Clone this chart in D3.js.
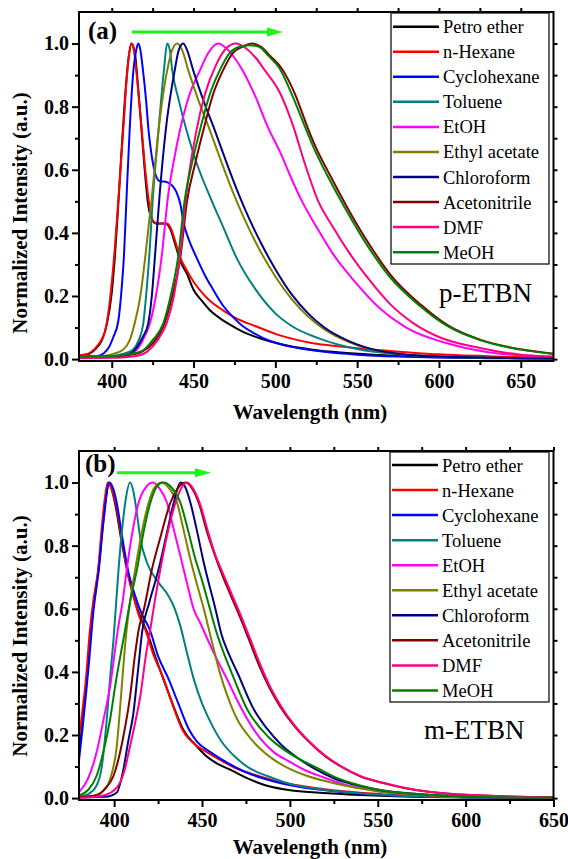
<!DOCTYPE html>
<html><head><meta charset="utf-8">
<script src="https://cdn.jsdelivr.net/npm/d3@7"></script>
<style>body{margin:0;background:#fff}text{font-family:"Liberation Serif","Times New Roman",serif}</style>
</head><body>
<svg id="c" width="568" height="859"></svg>
<script>
// ---------- data ----------
const solvents = ["Petro ether","n-Hexane","Cyclohexane","Toluene","EtOH","Ethyl acetate","Chloroform","Acetonitrile","DMF","MeOH"];
const colors = ["#000000","#ff0000","#0000ff","#008080","#ff00ff","#808000","#000080","#800000","#ff0080","#008000"];
const xTicks = [400,450,500,550,600,650];
const xMinor = [425,475,525,575,625];
const yTicks = [0,0.2,0.4,0.6,0.8,1.0];
const yMinor = [0.1,0.3,0.5,0.7,0.9];

// p-ETBN (panel a): [wavelength, normalized intensity]
const pPetro = [[380,0.012],[385,0.015],[390,0.032],[394,0.06],[397,0.11],[400,0.21],[402,0.33],[404,0.49],[406,0.66],[408,0.82],[410,0.94],[412,1.0],[414,0.975],[416,0.87],[418,0.74],[420,0.61],[422,0.5],[424,0.45],[427,0.43],[433,0.43],[436,0.41],[439,0.36],[442,0.31],[446,0.27],[450,0.22],[455,0.185],[460,0.155],[466,0.13],[472,0.11],[480,0.087],[490,0.067],[500,0.052],[510,0.04],[523,0.03],[540,0.021],[560,0.014],[580,0.009],[600,0.006],[630,0.003],[670,0.002]];
const pHexane = [[380,0.012],[385,0.016],[390,0.035],[393,0.055],[396,0.09],[398,0.15],[400,0.24],[402,0.36],[404,0.5],[406,0.65],[407.5,0.76],[409,0.88],[411,0.98],[412.2,1.0],[413.5,0.98],[416,0.86],[418.3,0.73],[420.5,0.6],[422.7,0.5],[425,0.44],[428,0.43],[434,0.43],[436.5,0.41],[439,0.37],[441.7,0.324],[446,0.28],[450,0.245],[454,0.218],[460,0.185],[465,0.165],[470,0.148],[475,0.132],[480,0.12],[485,0.11],[490,0.1],[495,0.09],[500,0.08],[510,0.065],[523,0.05],[540,0.04],[560,0.03],[580,0.022],[600,0.015],[630,0.009],[670,0.005]];
const pCyclo = [[380,0.004],[390,0.008],[395,0.018],[398,0.035],[401,0.07],[404,0.12],[406,0.22],[407.5,0.33],[409.2,0.53],[411,0.73],[413,0.9],[415,0.98],[416.2,1.0],[417.5,0.98],[419,0.92],[421,0.82],[422.5,0.725],[424,0.66],[426,0.6],[429,0.565],[434,0.56],[437,0.55],[439.5,0.53],[442,0.49],[444,0.43],[447,0.38],[452,0.32],[457,0.265],[462,0.22],[468,0.17],[474,0.134],[480,0.105],[486,0.085],[492,0.068],[500,0.052],[513,0.036],[530,0.023],[550,0.014],[575,0.008],[600,0.005],[670,0.002]];
const pToluene = [[380,0.006],[400,0.01],[408,0.018],[413,0.03],[416.5,0.06],[419.3,0.113],[421,0.2],[423,0.33],[425,0.5],[428.6,0.725],[431.9,0.915],[433.9,1.0],[435.5,0.98],[437,0.915],[441,0.82],[445.7,0.725],[452,0.62],[461,0.503],[468,0.42],[476,0.324],[488,0.22],[500,0.145],[510,0.105],[527,0.065],[550,0.032],[575,0.015],[600,0.008],[670,0.002]];
const pEtOH = [[380,0.005],[400,0.008],[410,0.015],[415,0.028],[419,0.06],[423.3,0.113],[427,0.2],[430.5,0.324],[434.5,0.52],[438,0.63],[441.7,0.725],[447,0.83],[453.9,0.915],[459,0.97],[465,1.0],[470,0.985],[475,0.955],[480,0.915],[488,0.83],[495,0.74],[503,0.655],[510,0.57],[516,0.503],[525,0.42],[535,0.335],[547,0.255],[564,0.16],[580,0.1],[605,0.05],[630,0.022],[650,0.012],[670,0.007]];
const pEtAc = [[380,0.006],[395,0.01],[402,0.018],[407,0.03],[411,0.06],[414,0.113],[417.5,0.2],[420.5,0.324],[424.3,0.503],[428.6,0.725],[433.9,0.915],[437,0.98],[440,1.0],[443,0.98],[446.8,0.915],[453,0.82],[460,0.725],[467,0.625],[474,0.53],[481,0.445],[490,0.35],[500,0.262],[510,0.19],[520,0.135],[530,0.094],[545,0.054],[564,0.025],[600,0.008],[670,0.002]];
const pChloro = [[380,0.005],[400,0.008],[410,0.015],[415,0.035],[419,0.07],[422.3,0.113],[424.5,0.2],[426.4,0.324],[429.5,0.535],[433,0.725],[438.5,0.915],[441,0.98],[443.7,1.0],[446,0.98],[449.8,0.915],[456,0.82],[463,0.725],[470,0.625],[477,0.53],[484,0.445],[492,0.36],[500,0.285],[510,0.205],[520,0.145],[530,0.1],[545,0.057],[564,0.026],[600,0.008],[670,0.002]];
const pAceto = [[380,0.005],[400,0.007],[410,0.012],[418,0.022],[425,0.05],[432,0.11],[437,0.2],[442,0.324],[446,0.5],[451,0.62],[456,0.725],[462,0.84],[468,0.915],[474,0.97],[480,0.99],[486,1.0],[491,0.99],[497,0.96],[504,0.92],[512,0.84],[520,0.73],[524,0.68],[534,0.577],[544,0.48],[556,0.375],[571,0.263],[589,0.172],[606,0.105],[626,0.06],[650,0.031],[670,0.017]];
const pDMF = [[380,0.003],[400,0.004],[415,0.01],[422,0.025],[428,0.06],[433.5,0.113],[438,0.2],[441.7,0.324],[445.5,0.52],[451.8,0.725],[457,0.84],[464,0.935],[470,0.985],[476,1.0],[482,0.985],[488,0.955],[493.6,0.915],[502.7,0.845],[510.8,0.74],[518,0.62],[526,0.503],[535,0.42],[545.4,0.335],[557.6,0.25],[570,0.175],[584,0.115],[600,0.07],[625,0.035],[650,0.014],[670,0.008]];
const pMeOH = [[380,0.01],[400,0.01],[410,0.015],[415,0.02],[419.3,0.028],[425,0.06],[431.5,0.113],[436,0.2],[440.6,0.324],[444.5,0.5],[449,0.62],[453.9,0.725],[460,0.84],[466,0.915],[472,0.97],[478,0.99],[484,0.995],[490,0.99],[496,0.96],[502.7,0.92],[510,0.84],[519,0.725],[523,0.675],[533,0.57],[543,0.475],[555,0.37],[570,0.26],[588,0.17],[605,0.105],[625,0.06],[650,0.03],[670,0.016]];

// m-ETBN (panel b)
const mPetro = [[380,0.15],[382,0.24],[384,0.35],[386,0.48],[388,0.6],[391,0.72],[393.5,0.86],[395.5,0.96],[397,1.0],[399,0.97],[401,0.92],[404,0.82],[407.5,0.72],[411,0.64],[414.5,0.58],[418.5,0.53],[423,0.455],[428.5,0.37],[433.5,0.295],[439.5,0.215],[446,0.17],[452,0.135],[460,0.105],[466,0.09],[475,0.065],[487,0.039],[500,0.025],[517,0.017],[540,0.01],[560,0.006],[600,0.002],[650,0.001]];
const mHexane = [[380,0.19],[382,0.28],[384,0.38],[386,0.52],[388,0.62],[391,0.73],[393,0.86],[394.5,0.94],[396.3,1.0],[398.5,0.98],[401,0.93],[404,0.83],[407.2,0.725],[411,0.64],[414,0.58],[417.7,0.535],[422,0.46],[428.2,0.377],[433,0.3],[438.7,0.218],[446,0.17],[452,0.148],[460,0.122],[470,0.093],[477.7,0.078],[487,0.062],[495,0.05],[505,0.04],[520,0.028],[540,0.017],[560,0.01],[600,0.004],[650,0.001]];
const mCyclo = [[380,0.12],[382,0.22],[384,0.33],[386,0.45],[388,0.58],[391.4,0.73],[394,0.88],[397.3,1.0],[399.5,0.98],[401.5,0.935],[404.5,0.83],[407.8,0.725],[412,0.64],[416,0.58],[420.2,0.535],[425,0.45],[431,0.377],[436.5,0.3],[442.5,0.218],[447,0.18],[455,0.145],[465,0.11],[475,0.082],[485,0.062],[495,0.047],[505,0.036],[520,0.025],[540,0.014],[560,0.008],[600,0.003],[650,0.001]];
const mToluene = [[380,0.005],[385,0.012],[390,0.04],[393,0.1],[395.8,0.25],[398,0.4],[399.6,0.5],[402.5,0.725],[404.5,0.85],[406.3,0.936],[409.1,1.0],[411,0.97],[412.5,0.92],[415,0.82],[418.7,0.746],[425.3,0.683],[431,0.64],[434.5,0.6],[437.7,0.545],[441,0.47],[445.3,0.377],[450,0.3],[454.9,0.24],[461,0.18],[468.2,0.134],[477,0.095],[487.2,0.07],[500,0.045],[517.7,0.028],[540,0.015],[560,0.008],[600,0.003],[650,0.001]];
const mEtOH = [[380,0.019],[385,0.06],[390,0.145],[394,0.25],[397.7,0.355],[402,0.53],[405,0.63],[407.2,0.725],[410,0.83],[413.9,0.936],[418,0.985],[422.1,1.0],[426,0.98],[430.1,0.936],[434,0.85],[437.7,0.767],[441.5,0.68],[445.3,0.598],[449,0.555],[453,0.505],[458,0.445],[464,0.38],[470,0.31],[475.8,0.25],[483,0.19],[491,0.145],[500,0.115],[510,0.085],[518,0.068],[530,0.045],[550,0.022],[575,0.01],[600,0.004],[650,0.001]];
const mEtAc = [[380,0.003],[390,0.008],[394,0.025],[397.7,0.06],[401.5,0.165],[404,0.33],[406.5,0.5],[409,0.62],[412,0.725],[416,0.85],[419.6,0.936],[423,0.985],[427.2,1.0],[431.5,0.98],[435.8,0.936],[439.5,0.85],[443.4,0.756],[447,0.68],[451,0.6],[455,0.51],[460,0.4],[465,0.315],[470,0.25],[476,0.2],[483.4,0.155],[490,0.125],[499,0.095],[510,0.07],[527,0.045],[550,0.022],[575,0.01],[600,0.004],[650,0.001]];
const mChloro = [[380,0.002],[395,0.004],[401.5,0.018],[405.3,0.092],[408,0.18],[411,0.271],[413.5,0.4],[416,0.53],[420,0.62],[425.3,0.725],[430,0.84],[433.9,0.936],[437.7,1.0],[440.5,0.985],[443.4,0.936],[447,0.85],[451,0.746],[457.7,0.598],[461,0.52],[465,0.46],[470.1,0.398],[479.6,0.28],[487,0.22],[494.9,0.17],[505,0.125],[515,0.09],[525,0.063],[540,0.038],[552,0.025],[575,0.012],[600,0.005],[650,0.001]];
const mAceto = [[380,0.003],[390,0.01],[395,0.03],[399.6,0.07],[405.3,0.197],[409.1,0.324],[412,0.46],[414,0.535],[417,0.6],[421.5,0.725],[426,0.82],[432,0.936],[436,0.98],[440.6,1.0],[444.5,0.98],[448.5,0.93],[452.5,0.85],[457,0.775],[462,0.7],[466.5,0.64],[471.5,0.575],[476.5,0.505],[482.5,0.42],[488.5,0.348],[494.5,0.29],[502,0.232],[510,0.183],[520,0.133],[530,0.097],[540,0.069],[552,0.049],[565,0.032],[580,0.019],[595,0.012],[610,0.008],[630,0.004],[650,0.002]];
const mDMF = [[380,0.001],[390,0.004],[395,0.01],[400,0.025],[403.4,0.05],[406,0.09],[409.1,0.166],[412,0.24],[414.9,0.324],[418,0.45],[420.6,0.535],[423,0.62],[426.3,0.725],[430,0.83],[434.9,0.936],[438,0.98],[441.5,1.0],[445,0.98],[449,0.93],[453,0.852],[457,0.78],[462.5,0.704],[467,0.645],[472,0.58],[477,0.51],[483,0.425],[489,0.35],[494.9,0.292],[502,0.235],[510,0.185],[520,0.135],[530,0.098],[540,0.07],[552,0.05],[565,0.033],[580,0.019],[595,0.012],[610,0.008],[630,0.004],[650,0.002]];
const mMeOH = [[380,0.008],[385,0.025],[390,0.07],[394,0.15],[397.7,0.25],[401,0.37],[405.5,0.51],[409,0.62],[413,0.725],[417,0.85],[420.6,0.936],[424,0.985],[428,1.0],[432.5,0.985],[437.7,0.936],[442,0.85],[446.3,0.756],[450,0.69],[454,0.61],[458,0.53],[462,0.465],[466.3,0.405],[475.8,0.28],[487.2,0.197],[495,0.16],[505,0.125],[514,0.1],[525,0.068],[540,0.04],[552,0.025],[575,0.012],[600,0.005],[650,0.001]];

const seriesA = [pPetro,pHexane,pCyclo,pToluene,pEtOH,pEtAc,pChloro,pAceto,pDMF,pMeOH];
const seriesB = [mPetro,mHexane,mCyclo,mToluene,mEtOH,mEtAc,mChloro,mAceto,mDMF,mMeOH];

// ---------- drawing ----------
const svg = d3.select("#c");
const FONT = '"Liberation Serif","Times New Roman",serif';

function panel(o) {
  const L = 79, R = 553.5, T = o.top, B = o.top + 349;
  const x = d3.scaleLinear().domain(o.xDomain).range([L, R]);
  const y = d3.scaleLinear().domain([-0.006, 1.1]).range([B, T]);
  const g = svg.append("g");
  const cid = "clip" + o.id;
  g.append("clipPath").attr("id", cid).append("rect")
    .attr("x", L).attr("y", T).attr("width", R - L).attr("height", B - T);

  const line = d3.line().x(d => x(d[0])).y(d => y(d[1])).curve(d3.curveMonotoneX);
  const lg = g.append("g").attr("clip-path", `url(#${cid})`);
  o.series.forEach((s, i) => {
    lg.append("path").attr("d", line(s)).attr("fill", "none")
      .attr("stroke", colors[i]).attr("stroke-width", 2).attr("stroke-linejoin", "round");
  });

  function styleAxis(sel, labels) {
    sel.select(".domain").remove();
    sel.selectAll(".tick line").attr("stroke", "#000").attr("stroke-width", 2);
    if (!labels) sel.selectAll(".tick text").remove();
    else sel.selectAll(".tick text").attr("font-family", FONT).attr("font-size", 20)
      .attr("font-weight", "bold").attr("fill", "#000");
  }
  const ax = g.append("g").attr("transform", `translate(0,${B})`)
    .call(d3.axisBottom(x).tickValues(xTicks).tickSize(7).tickPadding(6).tickFormat(d3.format("d")));
  styleAxis(ax, true);
  ax.selectAll(".tick text").attr("dy", "0.71em");
  const axm = g.append("g").attr("transform", `translate(0,${B})`)
    .call(d3.axisBottom(x).tickValues(xMinor).tickSize(4));
  styleAxis(axm, false);
  const ay = g.append("g").attr("transform", `translate(${L},0)`)
    .call(d3.axisLeft(y).tickValues(yTicks).tickSize(7).tickPadding(3).tickFormat(d3.format(".1f")));
  styleAxis(ay, true);
  const aym = g.append("g").attr("transform", `translate(${L},0)`)
    .call(d3.axisLeft(y).tickValues(yMinor).tickSize(4));
  styleAxis(aym, false);
  const at = g.append("g").attr("transform", `translate(0,${T})`)
    .call(d3.axisTop(x).tickValues(xTicks.concat(xMinor)).tickSize(4));
  styleAxis(at, false);
  const ar = g.append("g").attr("transform", `translate(${R},0)`)
    .call(d3.axisRight(y).tickValues(yTicks.concat(yMinor)).tickSize(4));
  styleAxis(ar, false);

  g.append("rect").attr("x", L).attr("y", T).attr("width", R - L).attr("height", B - T)
    .attr("fill", "none").attr("stroke", "#000").attr("stroke-width", 2);

  g.append("text").attr("x", 310).attr("y", B + o.xTitleDy).attr("text-anchor", "middle")
    .attr("font-family", FONT).attr("font-size", 21).attr("font-weight", "bold")
    .text("Wavelength (nm)");
  g.append("text").attr("transform", `translate(27,${o.yTitleY}) rotate(-90)`)
    .attr("text-anchor", "middle").attr("font-family", FONT).attr("font-size", 21)
    .attr("font-weight", "bold").text("Normalized Intensity (a.u.)");

  g.append("text").attr("x", o.tag[0]).attr("y", o.tag[1]).attr("font-family", FONT)
    .attr("font-size", 25).attr("font-weight", "bold").text(o.tagText);

  const a = o.arrow;
  g.append("line").attr("x1", a[0]).attr("x2", a[1] - 12).attr("y1", a[2]).attr("y2", a[2])
    .attr("stroke", "#19f519").attr("stroke-width", 3);
  g.append("path").attr("d", `M${a[1]},${a[2]} L${a[1] - 16},${a[2] - 4.5} L${a[1] - 16},${a[2] + 4.5} Z`)
    .attr("fill", "#19f519");

  const lb = o.legend;
  g.append("rect").attr("x", lb[0]).attr("y", lb[1]).attr("width", lb[2]).attr("height", lb[3])
    .attr("fill", "#fff").attr("stroke", "#000").attr("stroke-width", 1.2);
  solvents.forEach((n, i) => {
    const yy = lb[4] + i * 25.05;
    g.append("line").attr("x1", lb[0] + 2).attr("x2", lb[0] + 48).attr("y1", yy).attr("y2", yy)
      .attr("stroke", colors[i]).attr("stroke-width", 2.5);
    g.append("text").attr("x", lb[0] + 52).attr("y", yy + 6.5).attr("font-family", FONT)
      .attr("font-size", 18.5).text(n);
  });

  g.append("text").attr("x", o.name[0]).attr("y", o.name[1]).attr("font-family", FONT)
    .attr("font-size", 27).text(o.nameText);
}

panel({id: "a", top: 12, xDomain: [380, 670], series: seriesA, xTitleDy: 58, yTitleY: 213,
  tag: [88, 39], tagText: "(a)", arrow: [132, 283, 32], legend: [391, 13, 158, 251, 26.7],
  name: [439, 302], nameText: "p-ETBN"});
panel({id: "b", top: 451, xDomain: [380, 650], series: seriesB, xTitleDy: 54, yTitleY: 636,
  tag: [85, 472], tagText: "(b)", arrow: [117, 211, 472.7], legend: [390, 452, 159, 250, 465],
  name: [424, 739], nameText: "m-ETBN"});
</script>
</body></html>
